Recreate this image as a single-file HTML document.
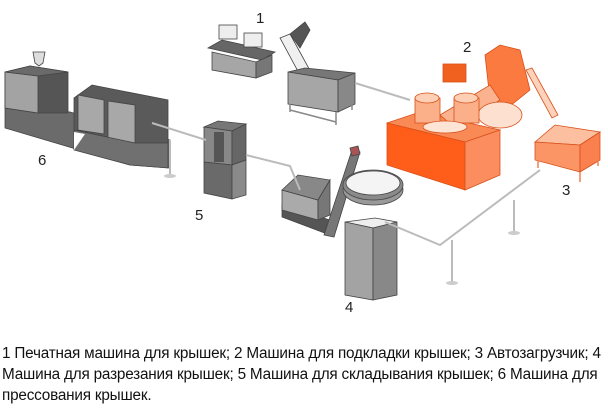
<!DOCTYPE html>
<html><head><meta charset="utf-8"><style>
body{margin:0;background:#fff;width:608px;height:408px;overflow:hidden;position:relative;font-family:"Liberation Sans",sans-serif}
svg{position:absolute;left:0;top:0}
.cap{position:absolute;left:2px;top:343px;font-size:15.3px;line-height:21px;color:#111;width:606px;letter-spacing:-0.2px;white-space:nowrap}
</style></head><body>
<svg width="608" height="330" viewBox="0 0 608 330">
<g stroke="#444" stroke-width="0.8">
<!-- machine 6 -->
<polygon points="5,105 70,112 170,140 170,168 130,165 5,128" fill="#6b6b6b"/>
<polygon points="5,72 30,66 68,72 68,113 38,113 5,108" fill="#555"/>
<polygon points="5,72 38,76 38,113 5,108" fill="#a3a3a3"/>
<polygon points="5,72 30,66 68,72 38,76" fill="#6a6a6a"/>
<polygon points="33,52 45,52 43,63 39,66 35,63" fill="#ddd"/>
<polygon points="74,98 92,85 168,100 168,143 135,143 74,130" fill="#5a5a5a"/>
<polygon points="78,95 104,100 104,134 78,130" fill="#a8a8a8"/>
<polygon points="108,101 135,105 135,143 108,138" fill="#a8a8a8"/>
<polygon points="74,130 135,143 168,143 168,168 130,165 74,150" fill="#707070"/>
<polygon points="74,132 85,134 74,150" fill="#fff" stroke="none"/>
<!-- machine 5 -->
<polygon points="204,127 218,121 246,124 232,131" fill="#777"/>
<polygon points="204,127 232,131 232,165 204,162" fill="#888"/>
<polygon points="232,131 246,124 246,160 232,165" fill="#666"/>
<rect x="214" y="132" width="10" height="30" fill="#555" stroke="none"/>
<polygon points="204,162 232,165 232,199 204,193" fill="#6a6a6a"/>
<polygon points="232,165 246,160 246,195 232,199" fill="#8a8a8a"/>
<!-- machine 1 -->
<polygon points="208,48 222,40 275,52 262,60" fill="#666"/>
<polygon points="212,52 256,62 256,78 212,70" fill="#a6a6a6"/>
<polygon points="256,62 272,55 272,72 256,78" fill="#777"/>
<rect x="219" y="25" width="18" height="14" fill="#eee"/>
<rect x="244" y="33" width="18" height="14" fill="#eee"/>
<polygon points="280,38 290,34 318,85 308,90" fill="#f0f0f0"/>
<polygon points="290,34 305,22 310,30 300,48" fill="#555"/>
<polygon points="288,72 305,68 355,73 338,80" fill="#777"/>
<polygon points="288,72 338,80 338,112 288,104" fill="#a6a6a6"/>
<polygon points="338,80 355,73 355,104 338,112" fill="#888"/>
<path d="M290,104V112M336,112V125M352,104V110M290,110L336,122" fill="none" stroke="#888" stroke-width="1.5"/>
<!-- feeder near 4 -->
<polygon points="282,205 330,220 330,235 282,217" fill="#555"/>
<polygon points="282,190 318,200 318,220 282,210" fill="#aaa"/>
<polygon points="282,190 298,175 330,180 318,200" fill="#888"/>
<polygon points="318,200 330,180 330,215 318,220" fill="#777"/>
<polygon points="324,235 352,150 360,152 334,237" fill="#777"/>
<polygon points="350,148 358,146 360,154 352,156" fill="#a55"/>
<!-- machine 4 -->
<polygon points="345,222 375,218 397,222 373,228" fill="#eee"/>
<polygon points="345,222 373,228 373,300 345,295" fill="#a3a3a3"/>
<polygon points="373,228 397,222 397,295 373,300" fill="#888"/>
<ellipse cx="373" cy="190" rx="30" ry="15" fill="#999"/>
<ellipse cx="373" cy="185" rx="30" ry="15" fill="#8a8a8a"/>
<ellipse cx="373" cy="183" rx="27" ry="12" fill="#f4f4f4"/>
</g>
<!-- pipes -->
<g fill="none" stroke="#bbb" stroke-width="2">
<path d="M152,123L206,140"/><path d="M246,155L290,166L300,190"/>
<path d="M355,83L410,100"/><path d="M385,222L440,245L540,170"/>
<path d="M170,140V175"/><path d="M452,240V282"/><path d="M514,200V233"/>
<path d="M465,150L500,155"/>
</g>
<g fill="#ccc"><ellipse cx="170" cy="176" rx="6" ry="2"/><ellipse cx="452" cy="283" rx="6" ry="2"/><ellipse cx="514" cy="233" rx="6" ry="2"/></g>
<!-- machine 2 orange -->
<g stroke="#d8501a" stroke-width="0.8">
<polygon points="387,123 420,112 500,130 465,142" fill="#fa8a55"/>
<polygon points="387,123 465,142 465,190 387,165" fill="#ff5e1a"/>
<polygon points="465,142 500,130 500,175 465,190" fill="#fb8d5f"/>
<polygon points="485,55 500,45 520,50 530,90 505,110 490,100" fill="#fa7a40"/>
<polygon points="440,115 490,85 500,100 455,128" fill="#fbb38f"/>
<ellipse cx="500" cy="115" rx="22" ry="13" fill="#fde0cf"/>
<rect x="415" y="98" width="25" height="25" fill="#fbb08a"/>
<ellipse cx="427" cy="98" rx="12" ry="5" fill="#fdd0b5"/>
<rect x="454" y="98" width="25" height="25" fill="#fbb08a"/>
<ellipse cx="466" cy="98" rx="12" ry="5" fill="#fdd0b5"/>
<ellipse cx="445" cy="127" rx="22" ry="6" fill="#fde4d5"/>
<rect x="443" y="64" width="23" height="18" fill="#f0601f"/>
<polygon points="526,70 532,68 558,115 552,118" fill="#fcd2bb"/>
<polygon points="535,142 555,125 600,132 580,145" fill="#fcc0a0"/>
<polygon points="535,142 580,145 580,172 535,160" fill="#fb9565"/>
<polygon points="580,145 600,132 600,160 580,172" fill="#fa8050"/>
<path d="M538,160V168M580,172V182M598,160V166" stroke="#f08050" stroke-width="1.5"/>
</g>
<g font-family="Liberation Sans,sans-serif" font-size="15" fill="#222">
<text x="256" y="23">1</text><text x="463" y="52">2</text><text x="562" y="195">3</text>
<text x="345" y="312">4</text><text x="195" y="220">5</text><text x="38" y="165">6</text>
</g>
</svg>
<div class="cap">1 Печатная машина для крышек; 2 Машина для подкладки крышек; 3 Автозагрузчик; 4<br>Машина для разрезания крышек; 5 Машина для складывания крышек; 6 Машина для<br>прессования крышек.</div>
</body></html>
